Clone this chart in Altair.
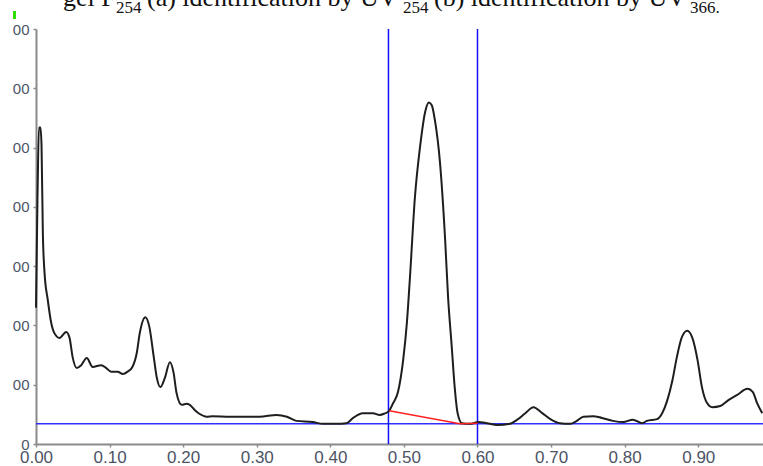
import altair as alt
import pandas as pd

# ---- data ----
rf = [0.000, 0.002, 0.004, 0.006, 0.0075, 0.0093, 0.0116, 0.016, 0.0207, 0.025,
      0.032, 0.041, 0.0456, 0.0497, 0.0555, 0.0615, 0.069, 0.077, 0.0887, 0.0955,
      0.102, 0.111, 0.118, 0.1245, 0.131, 0.137, 0.141, 0.1486, 0.154, 0.160,
      0.164, 0.169, 0.175, 0.182, 0.187, 0.191, 0.198, 0.205, 0.209, 0.216,
      0.222, 0.232, 0.240, 0.263, 0.286, 0.304, 0.327, 0.341, 0.354, 0.376,
      0.390, 0.408, 0.422, 0.431, 0.444, 0.458, 0.467, 0.473, 0.480, 0.485,
      0.492, 0.499, 0.504, 0.508, 0.515, 0.522, 0.529, 0.534, 0.538, 0.542,
      0.549, 0.556, 0.560, 0.565, 0.569, 0.573, 0.579, 0.590, 0.601, 0.613,
      0.627, 0.644, 0.654, 0.665, 0.676, 0.688, 0.699, 0.712, 0.726, 0.735,
      0.744, 0.757, 0.769, 0.784, 0.798, 0.811, 0.824, 0.830, 0.844, 0.851,
      0.858, 0.865, 0.871, 0.878, 0.885, 0.892, 0.899, 0.905, 0.912, 0.919,
      0.930, 0.941, 0.953, 0.967, 0.974, 0.980, 0.987]
signal = [230, 412, 534, 534, 505, 356, 289, 243, 204, 187,
          179, 189, 179, 147, 128, 133, 145, 130, 133, 128,
          122, 122, 118, 122, 130, 154, 187, 214, 198, 147,
          113, 96, 111, 138, 120, 86, 66, 68, 66, 57,
          51, 46, 47, 46, 46, 46, 49, 46, 39, 37,
          34, 34, 35, 44, 52, 52, 49, 51, 56, 68,
          88, 142, 204, 277, 417, 502, 561, 576, 571, 547,
          475, 345, 248, 164, 96, 52, 35, 34, 37, 35,
          32, 34, 41, 52, 62, 52, 42, 35, 34, 39,
          46, 47, 44, 39, 37, 41, 35, 39, 42, 52,
          74, 108, 147, 181, 191, 179, 142, 96, 69, 62,
          64, 74, 83, 93, 88, 69, 52]

marker_rf = [0.479, 0.600]
baseline_signal = [34]
integ_rf = [0.480, 0.576, 0.600]
integ_signal = [56, 34, 35]

x_ticks = [0.0, 0.1, 0.2, 0.3, 0.4, 0.5, 0.6, 0.7, 0.8, 0.9]
y_ticks = [0, 100, 200, 300, 400, 500, 600, 700]

caption_parts = ["gel F", "254", "(a) identification by UV", "254",
                 "(b) identification by UV", "366."]
caption_is_sub = [False, True, False, True, False, True]

# ---- layout ----
PAD_L, PAD_T = 36, 29
W, H = 727, 415

xscale = alt.Scale(domain=[0, 0.988], nice=False, zero=False)
yscale = alt.Scale(domain=[0, 700], nice=False)
xaxis = alt.Axis(values=x_ticks, format=".2f", title=None, labelFlush=False)
yaxis = alt.Axis(values=y_ticks, title=None, labelFlush=False,
                 labelExpr="slice(datum.label, -2)")

curve_df = pd.DataFrame({"rf": rf, "signal": signal})

curve = alt.Chart(curve_df).mark_line(
    color="#1e1e1e", strokeWidth=2, interpolate="monotone"
).encode(
    x=alt.X("rf:Q", scale=xscale, axis=xaxis),
    y=alt.Y("signal:Q", scale=yscale, axis=yaxis),
)

vrules = alt.Chart(pd.DataFrame({"rf": marker_rf})).mark_rule(
    color="#1010ff", strokeWidth=1.5
).encode(x=alt.X("rf:Q", scale=xscale, axis=xaxis))

hrule = alt.Chart(pd.DataFrame({"signal": baseline_signal})).mark_rule(
    color="#3030ff", strokeWidth=1.5
).encode(y=alt.Y("signal:Q", scale=yscale, axis=yaxis))

integ = alt.Chart(pd.DataFrame({"rf": integ_rf, "signal": integ_signal})).mark_line(
    color="#ff2020", strokeWidth=1.5
).encode(
    x=alt.X("rf:Q", scale=xscale, axis=xaxis),
    y=alt.Y("signal:Q", scale=yscale, axis=yaxis),
)

# caption fragment at the top (cut off by the image edge)
cap_x = [63, 116, 147, 403, 434, 690]
cap_layers = []
for txt, sub, px in zip(caption_parts, caption_is_sub, cap_x):
    cap_layers.append(
        alt.Chart(pd.DataFrame({"t": [txt]})).mark_text(
            font="Liberation Serif",
            fontSize=17 if sub else 26,
            align="left",
            baseline="alphabetic",
            color="#111111",
        ).encode(
            text="t:N",
            x=alt.value(px - PAD_L),
            y=alt.value((12.5 if sub else 6) - PAD_T),
        )
    )

green = alt.Chart(pd.DataFrame({"a": [0]})).mark_rule(
    color="#33dd00", strokeWidth=3
).encode(x=alt.value(14.5 - PAD_L), y=alt.value(11 - PAD_T), y2=alt.value(19 - PAD_T))

chart = alt.layer(hrule, vrules, curve, integ, green, *cap_layers).properties(
    width=W, height=H,
    autosize=alt.AutoSizeParams(type="none"),
    padding={"left": PAD_L, "top": PAD_T, "right": 0, "bottom": 466 - PAD_T - H},
    background="white",
).configure_view(stroke=None).configure_axis(
    grid=False,
    domainColor="#8a8a8a",
    domainWidth=2,
    tickColor="#8a8a8a",
    tickWidth=1.5,
    tickSize=3,
    labelColor="#4d5466",
    labelFont="Liberation Sans",
).configure_axisX(labelFontSize=17, labelPadding=2).configure_axisY(
    labelFontSize=15, labelPadding=4
)

chart.save("out.html", embed_options={"renderer": "svg", "actions": False})
